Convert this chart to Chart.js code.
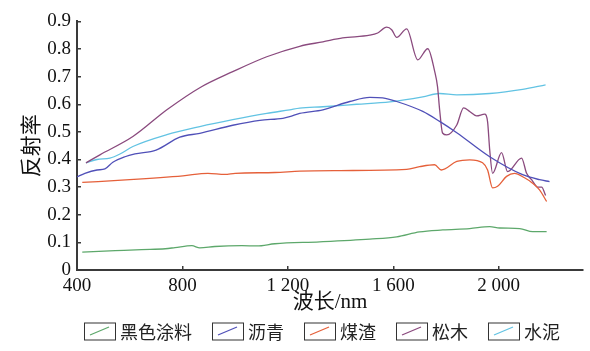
<!DOCTYPE html>
<html>
<head>
<meta charset="utf-8">
<script src="https://cdn.jsdelivr.net/npm/chart.js@4.4.1/dist/chart.umd.min.js"></script>
<style>
  body { margin: 0; background: #fff; }
  canvas { display: block; }
</style>
</head>
<body>
<canvas id="chart" width="590" height="351"></canvas>
<script>
// wavelengths (nm) and reflectance
const paintNm = [420, 545, 645, 735, 772, 836, 866, 923, 1026, 1083, 1151, 1321, 1511, 1613, 1700, 1788, 1890, 1966, 2004, 2080, 2129, 2182];
const paintR = [0.065, 0.070, 0.074, 0.077, 0.081, 0.088, 0.080, 0.085, 0.088, 0.087, 0.095, 0.102, 0.112, 0.120, 0.138, 0.145, 0.150, 0.157, 0.152, 0.150, 0.139, 0.139];

const asphaltNm = [400, 430, 476, 506, 536, 582, 620, 700, 790, 866, 991, 1094, 1181, 1207, 1245, 1333, 1435, 1511, 1560, 1613, 1712, 1776, 1841, 1966, 2091, 2155, 2193];
const asphaltR = [0.337, 0.350, 0.362, 0.366, 0.390, 0.410, 0.420, 0.434, 0.481, 0.495, 0.524, 0.542, 0.549, 0.555, 0.567, 0.580, 0.610, 0.625, 0.623, 0.610, 0.574, 0.538, 0.497, 0.410, 0.345, 0.327, 0.320];

const slagNm = [420, 600, 802, 897, 961, 1000, 1151, 1246, 1400, 1651, 1700, 1757, 1782, 1841, 1890, 1939, 1958, 1977, 1996, 2030, 2060, 2098, 2125, 2155, 2182];
const slagR = [0.317, 0.327, 0.341, 0.350, 0.346, 0.350, 0.353, 0.358, 0.360, 0.364, 0.374, 0.381, 0.362, 0.393, 0.399, 0.388, 0.362, 0.297, 0.303, 0.339, 0.350, 0.334, 0.317, 0.290, 0.248];

const pineNm = [434, 487, 612, 741, 866, 991, 1120, 1245, 1333, 1408, 1511, 1541, 1575, 1594, 1613, 1651, 1693, 1731, 1757, 1768, 1776, 1787, 1803, 1841, 1867, 1890, 1916, 1947, 1958, 1966, 1977, 2011, 2034, 2087, 2106, 2125, 2148, 2163, 2178];
const pineR = [0.388, 0.417, 0.483, 0.580, 0.660, 0.718, 0.772, 0.810, 0.826, 0.840, 0.850, 0.858, 0.879, 0.870, 0.842, 0.873, 0.761, 0.801, 0.720, 0.664, 0.580, 0.496, 0.489, 0.525, 0.587, 0.574, 0.558, 0.564, 0.536, 0.435, 0.350, 0.425, 0.356, 0.405, 0.350, 0.327, 0.300, 0.300, 0.270];

const cementNm = [434, 476, 525, 563, 612, 741, 866, 991, 1120, 1207, 1245, 1333, 1461, 1587, 1712, 1776, 1841, 1966, 2091, 2178];
const cementR = [0.388, 0.400, 0.405, 0.420, 0.447, 0.490, 0.519, 0.544, 0.567, 0.580, 0.586, 0.591, 0.600, 0.609, 0.627, 0.639, 0.634, 0.639, 0.654, 0.670];

const seriesNames = ["黑色涂料", "沥青", "煤渣", "松木", "水泥"];
const seriesColors = ["#5da86b", "#5050b8", "#e5603a", "#8a4a7e", "#62c3e3"];
const xTicks = [400, 800, 1200, 1600, 2000];
const yTicks = [0, 0.1, 0.2, 0.3, 0.4, 0.5, 0.6, 0.7, 0.8, 0.9];

const serif = "'Liberation Serif', 'Noto Sans CJK SC', serif";

function toPoints(xs, ys) {
  return xs.map((x, i) => ({ x: x, y: ys[i] }));
}

const allNm = [paintNm, asphaltNm, slagNm, pineNm, cementNm];
const allR = [paintR, asphaltR, slagR, pineR, cementR];

const datasets = seriesNames.map((name, i) => ({
  label: name,
  data: toPoints(allNm[i], allR[i]),
  borderColor: seriesColors[i],
  borderWidth: 1.3,
  pointRadius: 0,
  fill: false,
  cubicInterpolationMode: "monotone"
}));

// legend with framed boxes like the figure
const boxLegend = {
  id: "boxLegend",
  afterDraw(chart) {
    const ctx = chart.ctx;
    const area = chart.chartArea;
    ctx.save();
    ctx.font = "18px 'Noto Sans CJK SC', sans-serif";
    const boxW = 31, boxH = 17, gapText = 5, gapItem = 20;
    const widths = seriesNames.map(n => boxW + gapText + ctx.measureText(n).width);
    const total = widths.reduce((a, b) => a + b, 0) + gapItem * (widths.length - 1);
    let x = (area.left + area.right) / 2 - 8 - total / 2;
    const cy = 331;
    seriesNames.forEach((name, i) => {
      ctx.strokeStyle = "#333";
      ctx.lineWidth = 1;
      ctx.strokeRect(x + 0.5, cy - boxH / 2 + 0.5, boxW, boxH);
      ctx.strokeStyle = seriesColors[i];
      ctx.lineWidth = 1.3;
      ctx.beginPath();
      ctx.moveTo(x + 6, cy + 4);
      ctx.lineTo(x + 25, cy - 4);
      ctx.stroke();
      ctx.fillStyle = "#222";
      ctx.textBaseline = "middle";
      ctx.textAlign = "left";
      ctx.fillText(name, x + boxW + gapText, cy + 1);
      x += widths[i] + gapItem;
    });
    ctx.restore();
  }
};

new Chart(document.getElementById("chart"), {
  type: "line",
  data: { datasets },
  options: {
    responsive: false,
    animation: false,
    devicePixelRatio: 1,
    layout: { padding: { top: 21, right: 7, bottom: 36, left: 0 } },
    plugins: {
      legend: { display: false },
      tooltip: { enabled: false }
    },
    scales: {
      x: {
        type: "linear",
        min: 400,
        max: 2320,
        afterBuildTicks: axis => { axis.ticks = xTicks.map(v => ({ value: v })); },
        afterFit: axis => { axis.height = 45; },
        border: { color: "#3a3a3a", width: 2 },
        grid: { drawOnChartArea: false, tickLength: -4, color: "#3a3a3a", lineWidth: 1.5 },
        ticks: {
          padding: 9,
          color: "#111",
          font: { family: serif, size: 19 },
          maxRotation: 0,
          callback: v => String(v).replace(/\B(?=(\d{3})+(?!\d))/g, " ")
        },
        title: {
          display: true,
          text: "波长/nm",
          color: "#111",
          padding: { top: 0, bottom: 0 },
          font: { family: serif, size: 21 }
        }
      },
      y: {
        min: 0,
        max: 0.9,
        afterBuildTicks: axis => { axis.ticks = yTicks.map(v => ({ value: v })); },
        afterFit: axis => { axis.width = 77; },
        border: { color: "#3a3a3a", width: 2 },
        grid: { drawOnChartArea: false, tickLength: -4, color: "#3a3a3a", lineWidth: 1.5 },
        ticks: {
          padding: 10,
          color: "#111",
          font: { family: serif, size: 19 },
          callback: v => (v === 0 ? "0" : v.toFixed(1))
        },
        title: {
          display: true,
          text: "反射率",
          color: "#111",
          padding: { top: 20, bottom: 0 },
          font: { family: serif, size: 21 }
        }
      }
    }
  },
  plugins: [boxLegend]
});
</script>
</body>
</html>
